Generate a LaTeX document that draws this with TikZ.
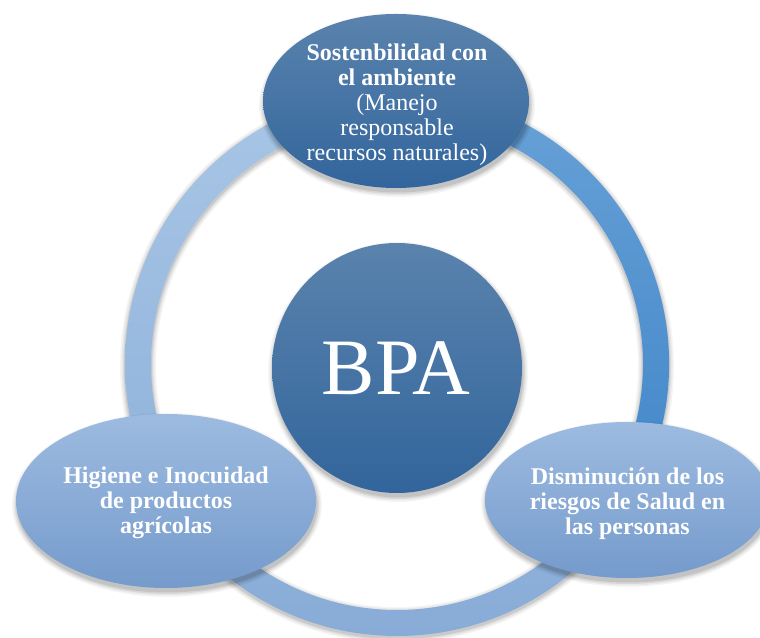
\documentclass[tikz,border=0pt]{standalone}
\usepackage{fontspec}
\setmainfont{Liberation Serif}
\usetikzlibrary{calc}
\definecolor{darkTop}{RGB}{90,131,173}
\definecolor{darkBot}{RGB}{50,101,156}
\definecolor{lightTop}{RGB}{157,187,224}
\definecolor{lightBot}{RGB}{117,155,204}
\definecolor{ringTop}{RGB}{168,198,230}
\definecolor{ringBot}{RGB}{136,172,215}
\definecolor{arcTop}{RGB}{102,160,214}
\definecolor{arcBot}{RGB}{70,137,203}
\newcommand{\mysoftshadow}[3]{%
  \foreach \g/\o in {5/0.04,3.5/0.05,2/0.07,0.5/0.09}{%
    \fill[black,opacity=\o] ([shift={(1,-4)}]#1) ellipse[x radius=#2+\g, y radius=#3+\g];}}
\tikzset{
  txt/.style={text=white, align=center, inner sep=0pt, font=\fontsize{24}{25}\selectfont},
  darkfill/.style={top color=darkTop, bottom color=darkBot},
  lightfill/.style={top color=lightTop, bottom color=lightBot},
}
\begin{document}
\begin{tikzpicture}[x=1pt,y=1pt]
\useasboundingbox (0,0) rectangle (760,637);
\fill[white] (0,0) rectangle (760,637);
\coordinate (rc) at (397,273);
\coordinate (cc) at (397,269);
\coordinate (te) at (396,536);
\coordinate (le) at (166,136);
\coordinate (re) at (627,137);
% ring shadow
\foreach \w/\o in {36/0.04,33/0.05,30/0.06,28/0.07}{%
  \draw[black,opacity=\o,line width=\w] ([shift={(0,-2)}]rc) circle[radius=259];}
% ring
\shade[even odd rule, top color=ringTop, bottom color=ringBot]
  (rc) circle[radius=272] (rc) circle[radius=246];
% saturated arc (top -> right)
\shade[top color=arcTop, bottom color=arcBot]
  ([shift={(-20:272)}]rc) arc[start angle=-20, end angle=70, radius=272]
  -- ([shift={(70:246)}]rc) arc[start angle=70, end angle=-20, radius=246] -- cycle;
% centre circle
\mysoftshadow{cc}{125}{125}
\shade[darkfill] (cc) circle[radius=125];
% top ellipse
\mysoftshadow{te}{133}{87}
\shade[darkfill] (te) ellipse[x radius=133, y radius=87];
% left ellipse
\mysoftshadow{le}{150}{87}
\shade[lightfill] (le) ellipse[x radius=150, y radius=87];
% right ellipse
\mysoftshadow{re}{142}{78}
\shade[lightfill] (re) ellipse[x radius=142, y radius=78];
% texts
\node[text=white, anchor=base, inner sep=0pt, font=\fontsize{80}{90}\selectfont] (bpa) at (396,242) {BPA};
\node[txt] (top) at (397,532.5) {\textbf{Sostenbilidad con}\\\textbf{el ambiente}\\(Manejo\\responsable\\recursos naturales)};
\node[txt, font=\fontsize{24}{25}\selectfont\bfseries] (left) at (166,134.6) {Higiene e Inocuidad\\de productos\\agrícolas};
\node[txt, font=\fontsize{24}{25}\selectfont\bfseries] (right) at (627.5,133.6) {Disminución de los\\riesgos de Salud en\\las personas};
\end{tikzpicture}
\end{document}
